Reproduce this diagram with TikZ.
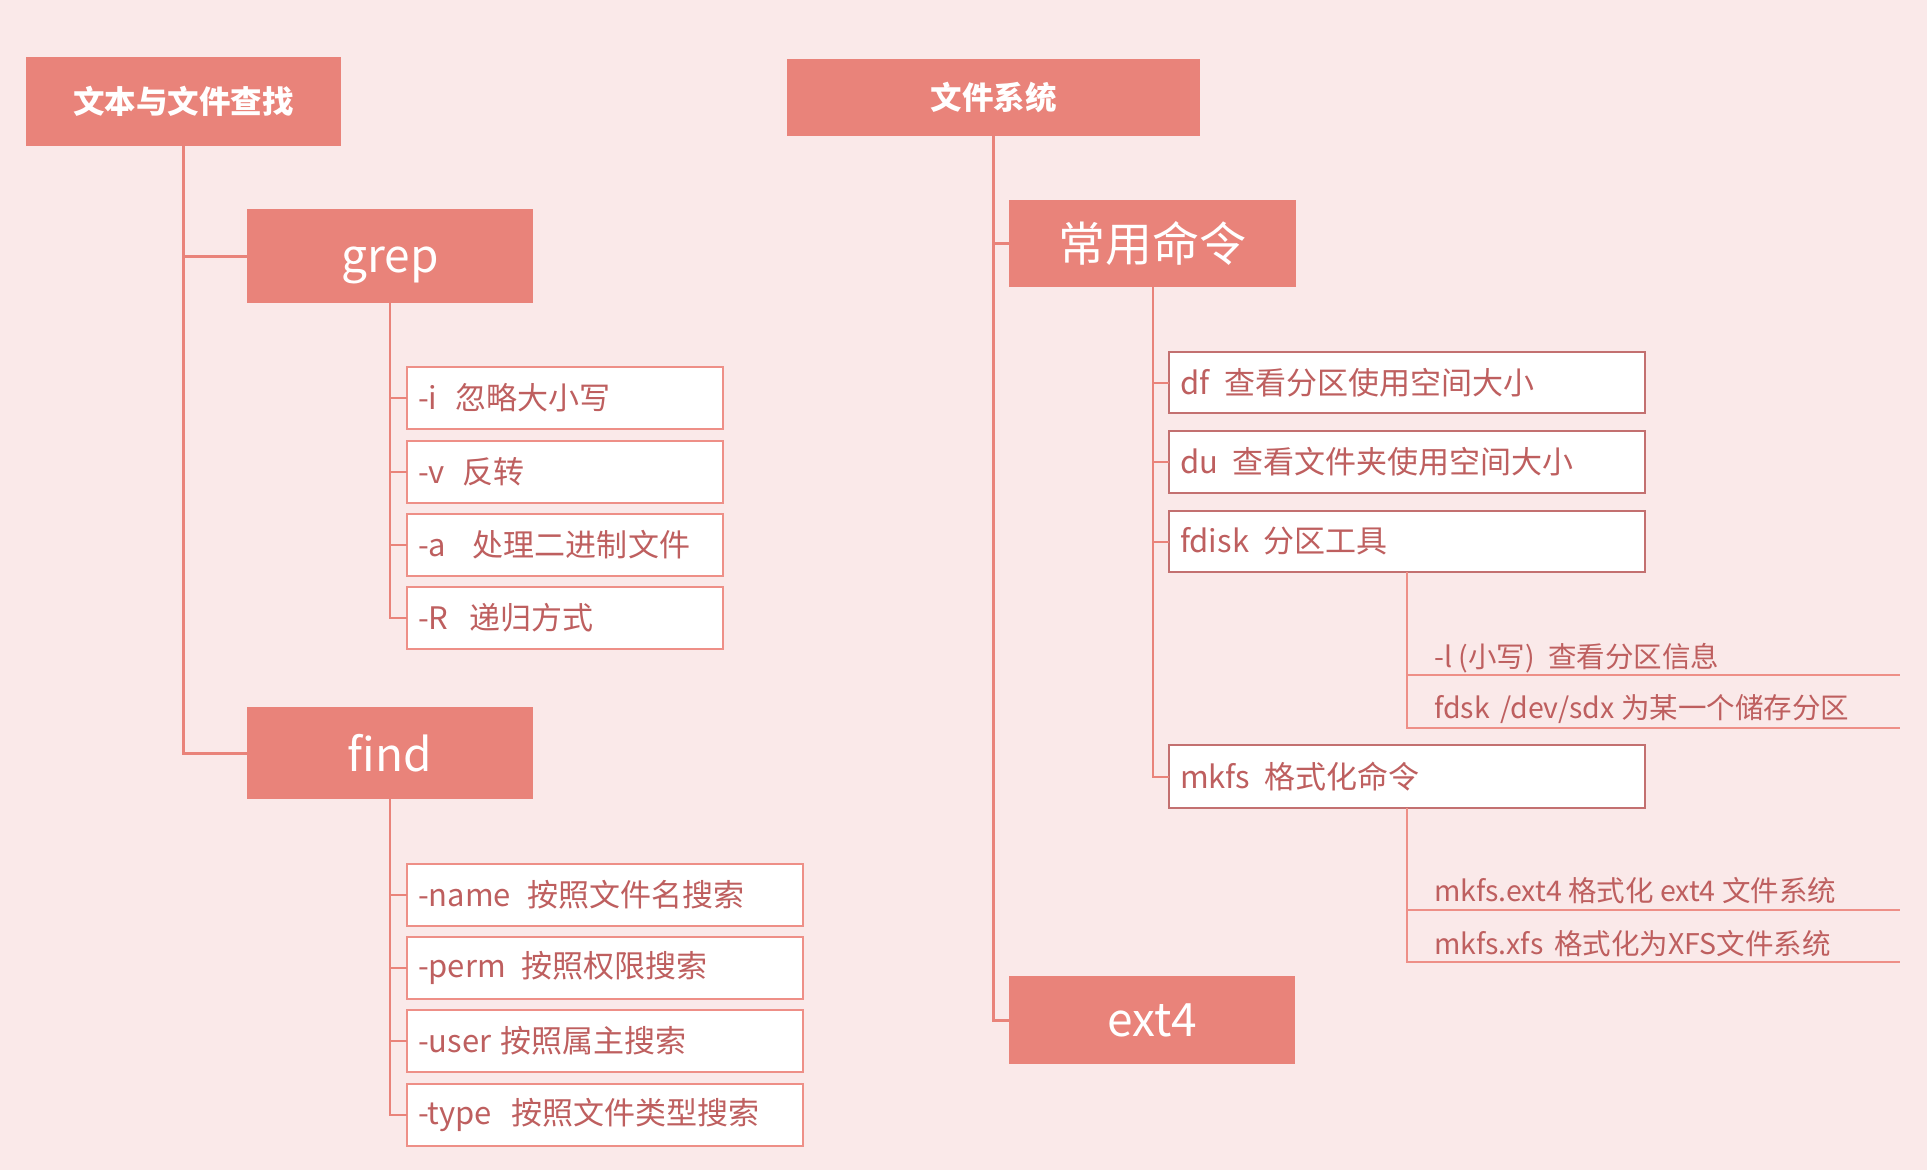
\documentclass[tikz,border=0pt]{standalone}
\usepackage{fontspec}
\setmainfont{Noto Sans CJK SC}
\definecolor{bg}{RGB}{250,233,233}
\definecolor{salmon}{RGB}{233,131,122}
\definecolor{txt}{RGB}{190,95,95}
\definecolor{lborder}{RGB}{238,143,135}
\definecolor{rborder}{RGB}{195,112,112}
\begin{document}
\begin{tikzpicture}[x=1pt,y=-1pt,
  head/.style={fill=salmon, text=white, inner sep=0pt, outer sep=0pt, anchor=north west, align=center},
  bighead/.style={head, font=\fontsize{46}{52}\selectfont},
  titlehead/.style={head, font=\bfseries\fontsize{31.5}{36}\selectfont},
  item/.style={fill=white, draw=lborder, line width=1.5pt, text=txt, anchor=north west,
    inner xsep=11pt, inner ysep=0pt, outer sep=0pt, align=left, font=\fontsize{31}{36}\selectfont},
  ritem/.style={item, draw=rborder},
  sub/.style={text=txt, anchor=base west, inner sep=0pt, font=\fontsize{28.5}{32}\selectfont},
  conn/.style={draw=salmon, line width=3pt},
  conn2/.style={draw=salmon, line width=2pt},
  subline/.style={draw=lborder, line width=2pt}
]
\fill[bg] (0,0) rectangle (1927,1170);
\useasboundingbox (0,0) rectangle (1927,1170);

% ---------- left tree ----------
\node[titlehead, minimum width=315pt, minimum height=89pt] (t1) at (26,57) {文本与文件查找};
\node[bighead, text height=33pt, text depth=0pt, minimum width=286pt, minimum height=94pt] (grep) at (247,209) {grep};
\node[bighead, minimum width=286pt, minimum height=92pt] (find) at (247,707) {find};

\node[item, text width=294pt, minimum height=62pt] (gi) at (407,367) {\makebox[38pt][l]{-i}忽略大小写};
\node[item, text width=294pt, minimum height=62pt] (gv) at (407,441) {\makebox[45pt][l]{-v}反转};
\node[item, text width=294pt, minimum height=62pt] (ga) at (407,514) {\makebox[55pt][l]{-a}处理二进制文件};
\node[item, text width=294pt, minimum height=62pt] (gR) at (407,587) {\makebox[51pt][l]{-R}递归方式};

\node[item, text width=374pt, minimum height=62pt] (fn) at (407,864) {\makebox[109pt][l]{-name}按照文件名搜索};
\node[item, text width=374pt, minimum height=62pt] (fp) at (407,937) {\makebox[104pt][l]{-perm}按照权限搜索};
\node[item, text width=374pt, minimum height=62pt] (fu) at (407,1010) {\makebox[83pt][l]{-user}按照属主搜索};
\node[item, text width=374pt, minimum height=62pt] (ft) at (407,1084) {\makebox[93pt][l]{-type}按照文件类型搜索};

\draw[conn] (t1.south) |- (grep.west);
\draw[conn] (t1.south) |- (find.west);
\foreach \n in {gi,gv,ga,gR} \draw[conn2] (grep.south) |- (\n.west);
\foreach \n in {fn,fp,fu,ft} \draw[conn2] (find.south) |- (\n.west);

% ---------- right tree ----------
\node[titlehead, minimum width=413pt, minimum height=77pt] (t2) at (787,59) {文件系统};
\node[head, font=\fontsize{47}{54}\selectfont, minimum width=287pt, minimum height=87pt] (cmd) at (1009,200) {常用命令};
\node[bighead, minimum width=286pt, minimum height=88pt] (ext) at (1009,976) {ext4};

\node[ritem, text width=454pt, minimum height=61pt] (df) at (1169,352) {\makebox[45pt][l]{df}查看分区使用空间大小};
\node[ritem, text width=454pt, minimum height=62pt] (du) at (1169,431) {\makebox[53pt][l]{du}查看文件夹使用空间大小};
\node[ritem, text width=454pt, minimum height=61pt] (fdisk) at (1169,511) {\makebox[83pt][l]{fdisk}分区工具};
\node[ritem, text width=454pt, minimum height=63pt] (mkfs) at (1169,745) {\makebox[85pt][l]{mkfs}格式化命令};

\draw[conn] (t2.south) |- (cmd.west);
\draw[conn] (t2.south) |- (ext.west);
\foreach \n in {df,du,fdisk,mkfs} \draw[conn2] (cmd.south) |- (\n.west);

% sub items of fdisk
\node[sub] (s1) at (1434,667) {\makebox[114pt][l]{-l (小写)}查看分区信息};
\node[sub] (s2) at (1434,718) {\makebox[66pt][l]{fdsk}\makebox[121pt][l]{/dev/sdx}为某一个储存分区};
\coordinate (s1l) at (1407,675);
\coordinate (s1r) at (1900,675);
\coordinate (s2r) at (1900,728);
\draw[subline] (fdisk.south) |- (s2r);
\draw[subline] (s1l) -- (s1r);

% sub items of mkfs
\node[sub] (m1) at (1434,901) {mkfs.ext4 格式化 ext4 文件系统};
\node[sub] (m2) at (1434,954) {\makebox[120pt][l]{mkfs.xfs}格式化为XFS文件系统};
\coordinate (m1l) at (1407,910);
\coordinate (m1r) at (1900,910);
\coordinate (m2r) at (1900,962);
\draw[subline] (mkfs.south) |- (m2r);
\draw[subline] (m1l) -- (m1r);
\end{tikzpicture}
\end{document}
